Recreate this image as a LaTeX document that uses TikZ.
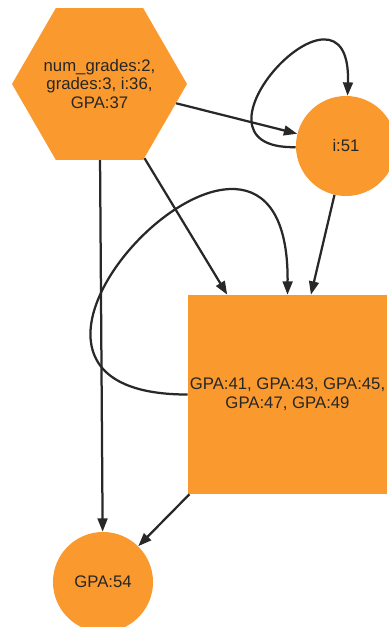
\documentclass[tikz,border=0pt]{standalone}
\usepackage{fontspec}
\setmainfont{Liberation Sans}
\usetikzlibrary{shapes.geometric, arrows.meta}

\definecolor{nodefill}{RGB}{250,154,46}
\definecolor{edgegray}{RGB}{40,40,40}

\begin{document}
\begin{tikzpicture}[x=0.025cm, y=-0.025cm,
    vertex/.style={fill=nodefill, text=black!85, inner sep=0pt, align=center,
        font=\fontsize{11.9pt}{13.4pt}\selectfont},
    link/.style={draw=edgegray, line width=1.6pt,
        -{Triangle[length=9.5pt, width=7pt]}}]
    \useasboundingbox (0, 0) rectangle (389, 627);

    \node[vertex, regular polygon, regular polygon sides=6, inner sep=-12pt,
        minimum size=4.375cm]
        (0) at (99.5, 84) {num\_grades:2,\\grades:3, i:36,\\GPA:37};
    \node[vertex, circle, minimum size=2.5cm] (1) at (346, 146) {i:51};
    \node[vertex, rectangle, minimum size=4.975cm]
        (2) at (287.5, 394.5) {GPA:41, GPA:43, GPA:45,\\GPA:47, GPA:49};
    \node[vertex, circle, minimum size=2.5cm] (3) at (103, 582) {GPA:54};

    \draw[link] (0) -- (1);
    \draw[link] (1) .. controls (170, 150) and (352, -45) .. (1);
    \draw[link] (0) -- (2);
    \draw[link] (1) -- (2);
    \draw[link] (2.west) .. controls (-80, 395) and (290, 20) .. (2.north);
    \draw[link] (0) -- (3);
    \draw[link] (2) -- (3);
\end{tikzpicture}
\end{document}
